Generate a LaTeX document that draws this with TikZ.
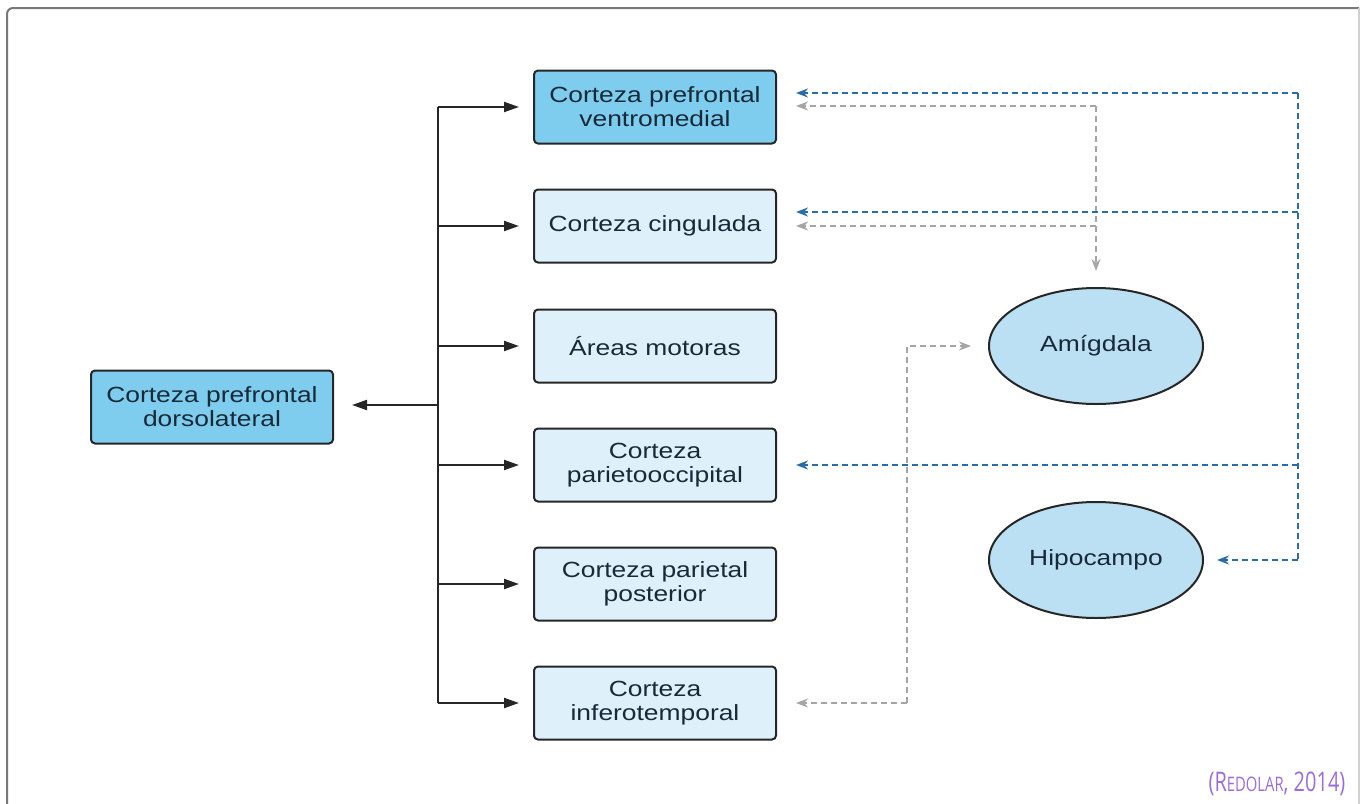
\documentclass[tikz,border=0pt]{standalone}
\usepackage{fontspec}
\setmainfont{Liberation Sans}[FakeStretch=1.2]
\newfontfamily\citefont{Open Sans}[FakeStretch=0.74]
\usetikzlibrary{arrows.meta,shapes.geometric}
\definecolor{dkfill}{RGB}{126,204,238}
\definecolor{ltfill}{RGB}{222,241,251}
\definecolor{elfill}{RGB}{188,224,243}
\definecolor{txt}{RGB}{24,42,56}
\definecolor{bluedash}{RGB}{40,108,168}
\definecolor{graydash}{RGB}{165,165,165}
\definecolor{framecol}{RGB}{120,120,120}
\definecolor{citecol}{RGB}{155,110,215}
\begin{document}
\begin{tikzpicture}[x=1pt,y=-1pt,
 box/.style={draw=black!85, line width=2pt, rounded corners=4pt, minimum width=242pt, minimum height=73pt, inner sep=0pt, align=center, text=txt, font=\fontsize{22}{24}\selectfont},
 darkbox/.style={box, fill=dkfill},
 lightbox/.style={box, fill=ltfill},
 oval/.style={ellipse, draw=black!85, line width=2pt, fill=elfill, minimum width=214pt, minimum height=116pt, inner sep=0pt, text=txt, font=\fontsize{22}{24}\selectfont},
 blk/.style={line width=2pt, draw=black!85, -{Triangle[length=15pt,width=10pt]}},
 trunk/.style={line width=2pt, draw=black!85},
 blline/.style={line width=2.3pt, draw=bluedash, dash pattern=on 6pt off 4pt},
 bl/.style={blline, -{Stealth[length=12pt,width=9pt]}},
 grline/.style={line width=2pt, draw=graydash, dash pattern=on 6pt off 4pt},
 gr/.style={grline, -{Stealth[length=12pt,width=9pt]}},
]
\useasboundingbox (0,0) rectangle (1362,803);
\draw[framecol, line width=2pt, rounded corners=6pt] (7,810) -- (7,8) -- (1359,8);
\draw[framecol!35, line width=1.2pt] (1359,8) -- (1359,810);

% nodes
\node[darkbox] (dlpfc) at (212,407) {Corteza prefrontal\\dorsolateral};
\node[darkbox] (vm) at (655,107) {Corteza prefrontal\\ventromedial};
\node[lightbox] (cing) at (655,226) {Corteza cingulada};
\node[lightbox] (mot) at (655,346) {Áreas motoras};
\node[lightbox] (po) at (655,465) {Corteza\\parietooccipital};
\node[lightbox] (pp) at (655,584) {Corteza parietal\\posterior};
\node[lightbox] (it) at (655,703) {Corteza\\inferotemporal};
\node[oval] (amy) at (1096,346) {Amígdala};
\node[oval] (hip) at (1096,560) {Hipocampo};

% black tree
\coordinate (tr) at (438,405);
\draw[trunk] (tr |- vm.west) -- (tr |- it.west);
\draw[blk] (tr) -- ([xshift=18pt]dlpfc.east |- tr);
\foreach \n in {vm,cing,mot,po,pp,it}
  \draw[blk, shorten >=14pt] (tr |- \n.west) -- (\n.west);

% gray dashed
\coordinate (gt) at (1096,106);
\coordinate (g2) at (1096,226);
\draw[gr] (gt) -- ([xshift=19pt]vm.east |- gt);
\draw[gr] (g2) -- ([xshift=19pt]cing.east |- g2);
\draw[gr, shorten >=16pt] (gt) -- (amy.north);
\coordinate (gc) at (907,703);
\coordinate (gu) at (907,346);
\draw[gr] (gc) -- ([xshift=19pt]it.east);
\draw[gr] (gc) -- (gu) -- ([xshift=-17pt]amy.west);

% blue dashed
\coordinate (bt) at (1298,93);
\coordinate (b2) at (1298,212);
\coordinate (b4) at (1298,465);
\coordinate (bb) at (1298,560);
\draw[blline] (bt) -- (bb);
\draw[bl] (bt) -- ([xshift=19pt]vm.east |- bt);
\draw[bl] (b2) -- ([xshift=19pt]cing.east |- b2);
\draw[bl] (b4) -- ([xshift=19pt]po.east);
\draw[bl] (bb) -- ([xshift=13pt]hip.east);

% citation
\node[text=citecol, font=\citefont\fontsize{27}{27}\selectfont] (cite) at (1277,784) {(R{\fontsize{20}{20}\selectfont EDOLAR}, 2014)};
\end{tikzpicture}
\end{document}
